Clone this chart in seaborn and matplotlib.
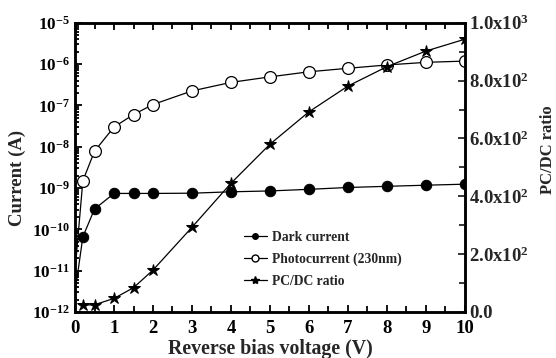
import numpy as np
import pandas as pd
import matplotlib
matplotlib.use("Agg")
import matplotlib.pyplot as plt
import matplotlib.ticker as mticker
from matplotlib.lines import Line2D
import seaborn as sns

# ---- data ----
voltage = [0.0, 0.2, 0.5, 1.0, 1.5, 2.0, 3.0, 4.0, 5.0, 6.0, 7.0, 8.0, 9.0, 10.0]
dark_current = [3e-12, 6.6e-11, 3.1e-10, 7.4e-10, 7.4e-10, 7.4e-10, 7.5e-10, 8.1e-10,
                8.5e-10, 9.3e-10, 1.03e-9, 1.1e-9, 1.17e-9, 1.24e-9]
photo_current = [1e-11, 1.5e-9, 7.8e-9, 3.0e-8, 6.0e-8, 1.05e-7, 2.24e-7, 3.6e-7,
                 4.9e-7, 6.5e-7, 7.9e-7, 9.5e-7, 1.1e-6, 1.18e-6]
ratio_voltage = [0.2, 0.5, 1.0, 1.5, 2.0, 3.0, 4.0, 5.0, 6.0, 7.0, 8.0, 9.0, 10.0]
pcdc_ratio = [24, 25, 47, 84, 145, 293, 445, 580, 692, 781, 848, 902, 943]

left_ticks = [1e-12, 1e-11, 1e-10, 1e-9, 1e-8, 1e-7, 1e-6, 1e-5]
left_labels = [r"$\mathbf{10^{-12}}$", r"$\mathbf{10^{-11}}$", r"$\mathbf{10^{-10}}$",
               r"$\mathbf{10^{-9}}$", r"$\mathbf{10^{-8}}$", r"$\mathbf{10^{-7}}$",
               r"$\mathbf{10^{-6}}$", r"$\mathbf{10^{-5}}$"]
right_ticks = [0, 200, 400, 600, 800, 1000]
right_labels = ["0.0", r"2.0x10$^{\mathbf{2}}$", r"4.0x10$^{\mathbf{2}}$",
                r"6.0x10$^{\mathbf{2}}$", r"8.0x10$^{\mathbf{2}}$", r"1.0x10$^{\mathbf{3}}$"]
x_ticks = list(range(0, 11))

sns.set_theme(style="white")
plt.rcParams["font.family"] = ["Liberation Serif", "DejaVu Serif"]
plt.rcParams["font.weight"] = "bold"
plt.rcParams["mathtext.fontset"] = "custom"
plt.rcParams["mathtext.rm"] = "Liberation Serif:bold"
plt.rcParams["mathtext.bf"] = "Liberation Serif:bold"
plt.rcParams["mathtext.it"] = "Liberation Serif:bold"
plt.rcParams["axes.linewidth"] = 1.8

df_cur = pd.DataFrame({"V": voltage, "dark": dark_current, "photo": photo_current})
df_rat = pd.DataFrame({"V": ratio_voltage, "ratio": pcdc_ratio})

fig = plt.figure(figsize=(5.56, 3.58), dpi=100)
ax = fig.add_axes([0.135, 0.1285, 0.701, 0.808])
ax2 = ax.twinx()

sns.lineplot(data=df_cur, x="V", y="dark", ax=ax, color="black", lw=0.9,
             marker="o", markersize=7.5, markerfacecolor="black", markeredgecolor="black",
             markevery=list(range(1, len(voltage))))
sns.lineplot(data=df_cur, x="V", y="photo", ax=ax, color="black", lw=0.9,
             marker="o", markersize=8.5, markerfacecolor="white", markeredgecolor="black",
             markeredgewidth=0.9, markevery=list(range(1, len(voltage))))
sns.lineplot(data=df_rat, x="V", y="ratio", ax=ax2, color="black", lw=0.9,
             marker="*", markersize=9, markerfacecolor="black", markeredgecolor="black")

ax.set_yscale("log")
ax.set_ylim(1e-12, 1e-5)
ax.set_xlim(0, 10)
ax2.set_ylim(0, 1000)

ax.set_xticks(x_ticks)
ax.set_xticklabels([str(t) for t in x_ticks], fontsize=13.5, fontweight="bold")
ax.xaxis.set_minor_locator(mticker.MultipleLocator(0.5))
ax.set_yticks(left_ticks)
ax.set_yticklabels(left_labels, fontsize=12.3)
ax.yaxis.set_minor_locator(mticker.LogLocator(base=10, subs=np.arange(2, 10), numticks=20))
ax.yaxis.set_minor_formatter(mticker.NullFormatter())
ax2.set_yticks(right_ticks)
ax2.set_yticklabels(right_labels, fontsize=13.5, fontweight="bold")
ax2.yaxis.set_minor_locator(mticker.MultipleLocator(100))

ax.tick_params(which="both", direction="in", top=True, bottom=True, left=True, right=False,
               width=1.3, colors="black")
ax.tick_params(axis="x", pad=6)
ax.tick_params(axis="y", pad=4)
ax.tick_params(which="major", length=5)
ax.tick_params(which="minor", length=3)
ax.tick_params(axis="x", which="minor", length=4)
ax2.tick_params(which="both", direction="in", right=True, width=1.3, pad=3)
ax2.tick_params(which="major", length=5)
ax2.tick_params(which="minor", length=4)

ax.set_xlabel("Reverse bias voltage (V)", fontsize=14.3, fontweight="bold", labelpad=1)
ax.set_ylabel("Current (A)", fontsize=13.5, fontweight="bold")
ax.yaxis.set_label_coords(-0.125, 0.465)
ax2.set_ylabel("PC/DC ratio", fontsize=12, fontweight="bold")
ax2.yaxis.set_label_coords(1.192, 0.56)

for a in (ax, ax2):
    for s in a.spines.values():
        s.set_color("black")
        s.set_linewidth(1.8)

handles = [
    Line2D([], [], color="black", lw=0.9, marker="o", markersize=4,
           markerfacecolor="black", markeredgecolor="black"),
    Line2D([], [], color="black", lw=0.9, marker="o", markersize=5,
           markerfacecolor="white", markeredgecolor="black"),
    Line2D([], [], color="black", lw=0.9, marker="*", markersize=6,
           markerfacecolor="black", markeredgecolor="black"),
]
labels = ["Dark current", "Photocurrent (230nm)", "PC/DC ratio"]
ax2.legend(handles, labels, loc="upper left", bbox_to_anchor=(0.415, 0.305),
           frameon=False, prop={"weight": "bold", "size": 9.8},
           handlelength=1.7, handletextpad=0.4, labelspacing=0.65, borderpad=0)

fig.savefig("out.png", dpi=100)
